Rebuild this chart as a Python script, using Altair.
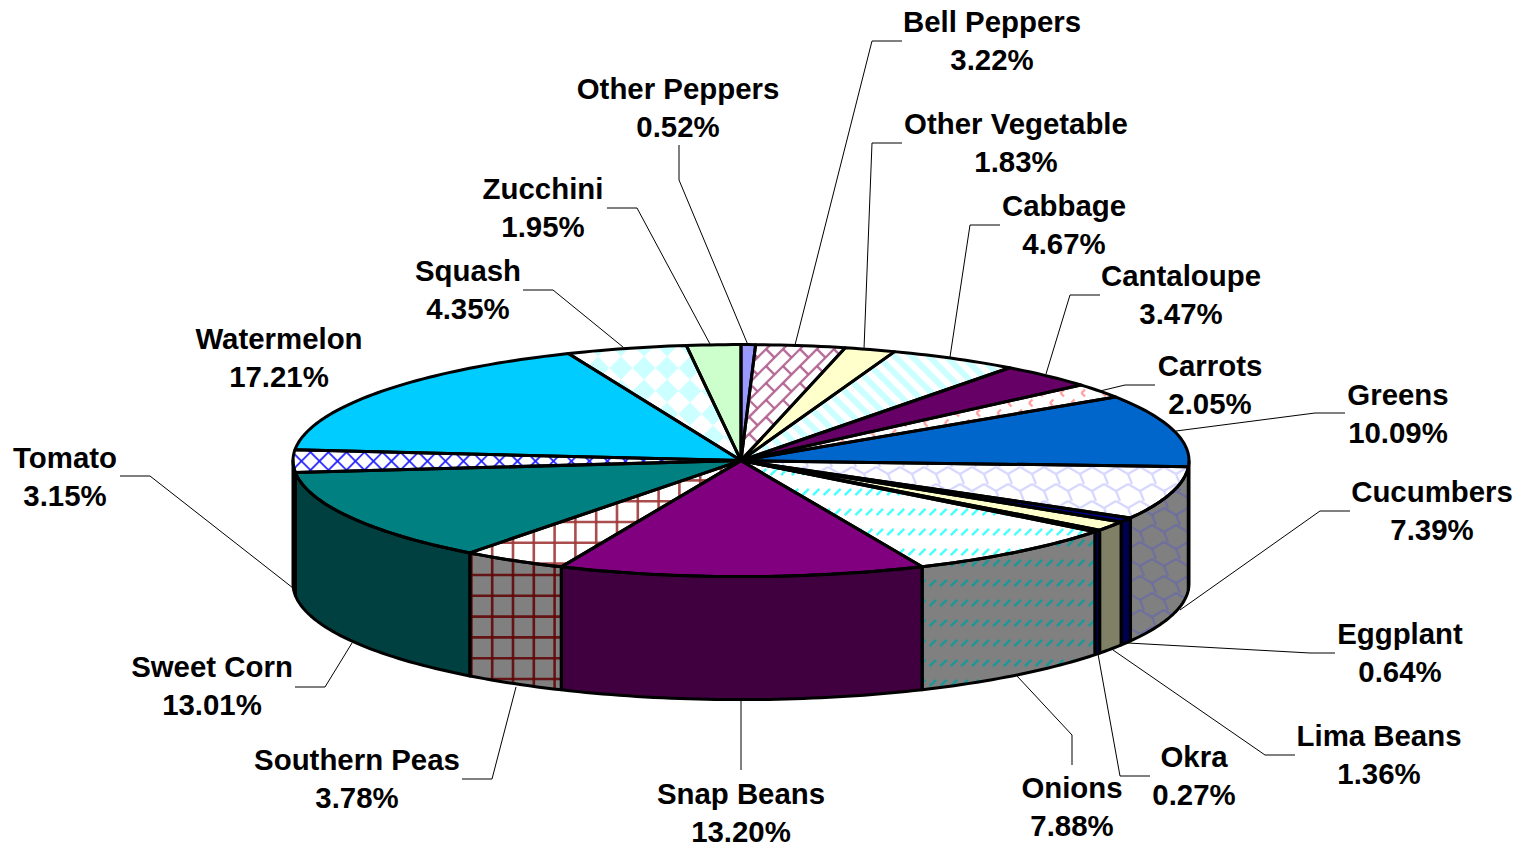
import math
import altair as alt
import numpy as np
import pandas as pd

names = ["Other Peppers", "Bell Peppers", "Other Vegetable", "Cabbage", "Cantaloupe", "Carrots", "Greens",
         "Cucumbers", "Eggplant", "Lima Beans", "Okra", "Onions", "Snap Beans", "Southern Peas", "Sweet Corn",
         "Tomato", "Watermelon", "Squash", "Zucchini"]
shares = [0.52, 3.22, 1.83, 4.67, 3.47, 2.05, 10.09, 7.39, 0.64, 1.36, 0.27, 7.88, 13.20, 3.78, 13.01, 3.15,
          17.21, 4.35, 1.95]
top_fill = ["#9999FF", "#FFFFFF", "#FFFFCC", "#FFFFFF", "#660066", "#FFFFFF", "#0066CC", "#FFFFFF", "#000080",
            "#FFFFCC", "#000080", "#FFFFFF", "#800080", "#FFFFFF", "#008080", "#FFFFFF", "#00CCFF", "#FFFFFF",
            "#CCFFCC"]
side_fill = ["#4C4C80", "#808080", "#808066", "#808080", "#330033", "#808080", "#003366", "#808080", "#000050",
             "#808066", "#000060", "#808080", "#400040", "#808080", "#004040", "#808080", "#006680", "#808080",
             "#668066"]
patterns = {"Bell Peppers": "brick", "Cabbage": "stripes", "Carrots": "chevrons", "Cucumbers": "scales",
            "Onions": "dashes", "Southern Peas": "grid", "Tomato": "trellis", "Squash": "diamonds"}
top_ink = {"brick": "#B0608F", "stripes": "#CCFFFF", "chevrons": "#FF9999", "scales": "#D4D4FF",
           "dashes": "#33FFFF", "grid": "#A03A3A", "trellis": "#2222FF", "diamonds": "#CCFFFF"}
side_ink = {"brick": "#663355", "stripes": "#668080", "chevrons": "#805050", "scales": "#6E6EA0",
            "dashes": "#109A9A", "grid": "#600808", "trellis": "#1A1A80", "diamonds": "#668080"}

# Label layout, in the chart's own coordinates
label_x = [678, 992, 1016, 1064, 1181, 1210, 1398, 1432, 1400, 1379, 1194, 1072, 741, 357, 212, 65, 279, 468, 543]
label_y = [90, 23, 125, 207, 277, 367, 396, 493, 635, 737, 758, 789, 795, 761, 668, 459, 340, 272, 190]
leaders = {
    "Other Peppers": [(679, 145), (679, 180), (748, 345)],
    "Bell Peppers": [(902, 41), (872, 41), (795, 345)],
    "Other Vegetable": [(902, 143), (872, 143), (864, 349)],
    "Cabbage": [(1000, 225), (970, 225), (950, 357)],
    "Cantaloupe": [(1100, 295), (1070, 295), (1046, 374)],
    "Carrots": [(1155, 385), (1125, 385), (1100, 391)],
    "Greens": [(1345, 413), (1315, 413), (1176, 431)],
    "Cucumbers": [(1350, 511), (1320, 511), (1180, 610)],
    "Eggplant": [(1335, 653), (1310, 653), (1128, 643)],
    "Lima Beans": [(1295, 755), (1265, 755), (1113, 650)],
    "Okra": [(1150, 776), (1120, 776), (1098, 654)],
    "Onions": [(1072, 765), (1072, 735), (1017, 676)],
    "Snap Beans": [(741, 770), (741, 700)],
    "Southern Peas": [(462, 779), (492, 779), (516, 687)],
    "Sweet Corn": [(295, 687), (325, 687), (352, 643)],
    "Tomato": [(120, 476), (150, 476), (293, 588)],
    "Squash": [(523, 290), (553, 290), (623, 347)],
    "Zucchini": [(607, 208), (637, 208), (710, 344)],
}

CX, CY, A, B, DEPTH = 741.0, 460.6, 448.0, 116.0, 123.0


def rim(t, drop=0.0):
    return (CX + A * math.sin(t), CY - B * math.cos(t) + drop)


def arc(t1, t2, drop=0.0):
    n = max(2, int(abs(t2 - t1) / 0.02) + 2)
    return [rim(t, drop) for t in np.linspace(t1, t2, n)]


def clip_segment(p, q, poly):
    """Parts of segment pq inside polygon (even-odd)."""
    ts = [0.0, 1.0]
    dx, dy = q[0] - p[0], q[1] - p[1]
    n = len(poly)
    for i in range(n):
        a, b = poly[i], poly[(i + 1) % n]
        ex, ey = b[0] - a[0], b[1] - a[1]
        d = dx * ey - dy * ex
        if abs(d) < 1e-12:
            continue
        t = ((a[0] - p[0]) * ey - (a[1] - p[1]) * ex) / d
        u = ((a[0] - p[0]) * dy - (a[1] - p[1]) * dx) / d
        if 0 < t < 1 and 0 <= u < 1:
            ts.append(t)
    ts.sort()
    out = []
    for t0, t1 in zip(ts, ts[1:]):
        m = (t0 + t1) / 2
        mx, my = p[0] + dx * m, p[1] + dy * m
        inside = False
        for i in range(n):
            a, b = poly[i], poly[(i + 1) % n]
            if (a[1] > my) != (b[1] > my) and mx < a[0] + (my - a[1]) * (b[0] - a[0]) / (b[1] - a[1]):
                inside = not inside
        if inside and t1 - t0 > 1e-9:
            out.append(((p[0] + dx * t0, p[1] + dy * t0), (p[0] + dx * t1, p[1] + dy * t1)))
    return out


def clip_convex(subject, poly):
    area = sum(poly[i][0] * poly[(i + 1) % len(poly)][1] - poly[(i + 1) % len(poly)][0] * poly[i][1]
               for i in range(len(poly)))
    sign = 1 if area > 0 else -1
    out = subject
    for i in range(len(poly)):
        a, b = poly[i], poly[(i + 1) % len(poly)]
        side = lambda p: sign * ((b[0] - a[0]) * (p[1] - a[1]) - (b[1] - a[1]) * (p[0] - a[0]))
        cur, out = out, []
        for j in range(len(cur)):
            p, q = cur[j], cur[(j + 1) % len(cur)]
            sp, sq = side(p), side(q)
            if sp >= 0:
                out.append(p)
            if (sp >= 0) != (sq >= 0):
                f = sp / (sp - sq)
                out.append((p[0] + (q[0] - p[0]) * f, p[1] + (q[1] - p[1]) * f))
        if not out:
            return []
    return out


def motif_segments(kind, poly, phase):
    xs = [p[0] for p in poly]
    ys = [p[1] for p in poly]
    x0, x1, y0, y1 = min(xs), max(xs), min(ys), max(ys)
    segs = []
    if kind == "grid":
        step = 20.8
        for k in range(-1, 90):
            v = 493 + step * k - 21 * 4
            if x0 <= v <= x1:
                segs.append(((v, y0), (v, y1)))
        base = 522 if phase == 0 else 575
        for k in range(-20, 20):
            v = base + step * k
            if y0 <= v <= y1:
                segs.append(((x0, v), (x1, v)))
    elif kind == "trellis":
        step = 18.0
        span = y1 - y0 + 4
        k0 = int((x0 - span) // step) - 1
        for k in range(k0, int((x1 + span) // step) + 2):
            v = k * step
            segs.append(((v, y0 - 2), (v + span, y1 + 2)))
            segs.append(((v + span, y0 - 2), (v, y1 + 2)))
    elif kind == "dashes":
        row = int(y0 // 20) - 1
        while row * 20 <= y1 + 20:
            yy = row * 20 + (12 if phase == 0 else 3)
            for c in range(int(x0 // 10.6) - 1, int(x1 // 10.6) + 2):
                xx = c * 10.6
                segs.append(((xx - 3.2, yy + 3.2), (xx + 3.2, yy - 3.2)))
            row += 1
    elif kind == "chevrons":
        row = int(y0 // 10) - 1
        while row * 10 <= y1 + 10:
            yy = row * 10 + 3
            for c in range(int(x0 // 21) - 1, int(x1 // 21) + 2):
                xx = c * 21 + (row % 2) * 10.5
                segs.append(((xx + 3.5, yy - 3.5), (xx, yy)))
                segs.append(((xx, yy), (xx + 3.5, yy + 3.5)))
            row += 1
    elif kind == "scales":
        per, gap, amp = 24.0, 17.0, 7.0
        row = int(y0 // gap) - 1
        while row * gap <= y1 + gap:
            yy = row * gap + 8 + phase * 7
            for c in range(int(x0 // per) - 1, int(x1 // per) + 2):
                xx = c * per + (row % 2) * per / 2
                mid = (xx + per / 2, yy + amp)
                segs.append(((xx, yy), mid))
                segs.append((mid, (xx + per, yy)))
                segs.append((mid, (mid[0] + 4, yy + gap)))
            row += 1
    elif kind == "brick":
        step = 12.0
        pitch = 24.0
        r = 700
        for m in range(-80, 80):
            # lines running up and to the right, with staggered bars between them
            off = m * step
            ox, oy = 800 + off * 0.707, 400 + off * 0.707
            segs.append(((ox - r * 0.707, oy + r * 0.707), (ox + r * 0.707, oy - r * 0.707)))
            for n in range(-30, 30):
                along = n * pitch + (m % 2) * pitch / 2
                bx, by = ox + along * 0.707, oy - along * 0.707
                segs.append(((bx, by), (bx + step * 0.707, by + step * 0.707)))
    return segs


def motif_polygons(kind, poly):
    xs = [p[0] for p in poly]
    ys = [p[1] for p in poly]
    x0, x1, y0, y1 = min(xs), max(xs), min(ys), max(ys)
    polys = []
    if kind == "diamonds":
        h = 11.5
        for i in range(int(x0 // (2 * h)) - 1, int(x1 // (2 * h)) + 2):
            for j in range(int(y0 // (2 * h)) - 1, int(y1 // (2 * h)) + 2):
                cx, cy = i * 2 * h, j * 2 * h
                polys.append([(cx - h, cy), (cx, cy - h), (cx + h, cy), (cx, cy + h)])
    elif kind == "stripes":
        per = 17.0
        span = y1 - y0 + 4
        for k in range(int((x0 - span) // per) - 1, int(x1 // per) + 2):
            v = k * per
            polys.append([(v, y0 - 2), (v + per / 2, y0 - 2), (v + per / 2 + span, y1 + 2), (v + span, y1 + 2)])
    return polys


fills, inks_poly, rules, outlines, pid = [], [], [], [], 0


def add_shape(poly, fill, kind, ink, width, phase, convex):
    global pid
    pid += 1
    for i, (x, y) in enumerate(poly):
        fills.append({"id": pid, "i": i, "x": x, "y": y, "fill": fill})
    for i, (x, y) in enumerate(poly + [poly[0]]):
        outlines.append({"id": pid, "i": i, "x": x, "y": y})
    if kind in ("diamonds", "stripes"):
        for m in motif_polygons(kind, poly):
            cut = clip_convex(m, poly) if convex else m
            if len(cut) >= 3:
                pid += 1
                for i, (x, y) in enumerate(cut):
                    inks_poly.append({"id": pid, "i": i, "x": x, "y": y, "fill": ink})
    elif kind:
        for p, q in motif_segments(kind, poly, phase):
            for a, b in clip_segment(p, q, poly):
                rules.append({"x": a[0], "y": a[1], "x2": b[0], "y2": b[1], "c": ink, "w": width})


widths = {"brick": 2.4, "chevrons": 2.4, "scales": 2.3, "dashes": 2.4, "grid": 2.6, "trellis": 1.9}
total = sum(shares)
bounds = np.cumsum([0] + shares) / total * 2 * math.pi

# side walls first
for k, name in enumerate(names):
    t1, t2 = max(bounds[k], math.pi / 2), min(bounds[k + 1], 3 * math.pi / 2)
    if t2 <= t1:
        continue
    kind = patterns.get(name)
    wall = arc(t1, t2) + arc(t2, t1, DEPTH)
    add_shape(wall, side_fill[k], kind, side_ink.get(kind), widths.get(kind, 2), 1, False)
# top wedges
for k, name in enumerate(names):
    kind = patterns.get(name)
    wedge = [(CX, CY)] + arc(bounds[k], bounds[k + 1])
    add_shape(wedge, top_fill[k], kind, top_ink.get(kind), widths.get(kind, 2), 0, True)

leader_rows = []
for name, pts in leaders.items():
    for i, (x, y) in enumerate(pts):
        leader_rows.append({"name": name, "i": i, "x": x, "y": y})

text_rows = []
for k, name in enumerate(names):
    text_rows.append({"x": label_x[k], "y": label_y[k], "t": name})
    text_rows.append({"x": label_x[k], "y": label_y[k] + 38, "t": f"{shares[k]:.2f}%"})

W, H = 1511, 839
X = alt.X("x:Q", scale=alt.Scale(domain=[8, 8 + W], nice=False, zero=False), axis=None)
Y = alt.Y("y:Q", scale=alt.Scale(domain=[8 + H, 8], nice=False, zero=False), axis=None)

base_fill = alt.Chart(pd.DataFrame(fills)).mark_line(strokeWidth=0, stroke="transparent").encode(
    x=X, y=Y, order="i:Q", detail="id:N", fill=alt.Fill("fill:N", scale=None))
ink_fill = alt.Chart(pd.DataFrame(inks_poly)).mark_line(strokeWidth=0, stroke="transparent").encode(
    x=X, y=Y, order="i:Q", detail="id:N", fill=alt.Fill("fill:N", scale=None))
hatch = alt.Chart(pd.DataFrame(rules)).mark_rule(opacity=0.9).encode(
    x=X, y=Y, x2="x2:Q", y2="y2:Q",
    color=alt.Color("c:N", scale=None), strokeWidth=alt.StrokeWidth("w:Q", scale=None))
outline = alt.Chart(pd.DataFrame(outlines)).mark_line(color="black", strokeWidth=3, strokeJoin="round").encode(
    x=X, y=Y, order="i:Q", detail="id:N")
leader = alt.Chart(pd.DataFrame(leader_rows)).mark_line(color="black", strokeWidth=1).encode(
    x=X, y=Y, order="i:Q", detail="name:N")
labels = alt.Chart(pd.DataFrame(text_rows)).mark_text(
    font="Liberation Sans", fontWeight="bold", fontSize=29.4, color="black", align="center", baseline="middle"
).encode(x=X, y=Y, text="t:N")

chart = alt.layer(leader, base_fill, ink_fill, hatch, outline, labels).properties(
    width=W, height=H, padding=0, autosize=alt.AutoSizeParams(type="none"), background="white"
).configure_view(stroke=None)

chart.save("out.html", embed_options={"renderer": "svg", "actions": False})
